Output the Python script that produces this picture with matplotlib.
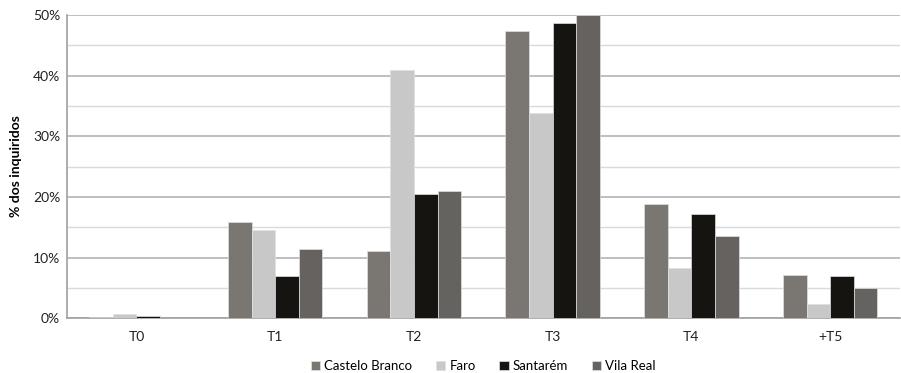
import numpy as np
import matplotlib.pyplot as plt
from matplotlib.ticker import MultipleLocator, PercentFormatter

plt.rcParams['font.family'] = ['Lato', 'DejaVu Sans']

categories = ['T0', 'T1', 'T2', 'T3', 'T4', '+T5']
castelo_branco = [0.2, 15.9, 11.1, 47.4, 18.8, 7.2]
faro = [0.7, 14.6, 40.9, 33.9, 8.3, 2.4]
santarem = [0.4, 7.0, 20.5, 48.6, 17.2, 7.0]
vila_real = [0.0, 11.4, 21.0, 50.0, 13.5, 4.9]

series = [('Castelo Branco', castelo_branco, '#7a7672'),
          ('Faro', faro, '#c8c8c8'),
          ('Santarém', santarem, '#161411'),
          ('Vila Real', vila_real, '#66625f')]

fig = plt.figure(figsize=(9.01, 3.73), dpi=100)
ax = fig.add_axes([0.0744, 0.147, 0.924, 0.813])

x = np.arange(len(categories))
w = 0.17
for i, (name, vals, col) in enumerate(series):
    ax.bar(x + (i - 1.5) * w, vals, w, color=col, label=name,
           edgecolor='#e0e0e0', linewidth=0.5, zorder=3)

ax.set_xlim(-0.5, len(categories) - 0.5)
ax.set_ylim(0, 50)
ax.yaxis.set_major_locator(MultipleLocator(10))
ax.yaxis.set_minor_locator(MultipleLocator(5))
ax.yaxis.set_major_formatter(PercentFormatter(decimals=0))
ax.grid(axis='y', which='major', color='#b4b4b4', linewidth=1.2, zorder=0)
ax.grid(axis='y', which='minor', color='#dadada', linewidth=1.0, zorder=0)
ax.set_xticks(x)
ax.set_xticklabels(categories)
ax.tick_params(axis='both', which='both', length=0, labelsize=10, colors='#222222', pad=9)
ax.tick_params(axis='y', pad=5)

for s in ['top', 'right']:
    ax.spines[s].set_visible(False)
for s in ['left', 'bottom']:
    ax.spines[s].set_color('#a0a0a0')
    ax.spines[s].set_linewidth(1.2)

ax.set_ylabel('% dos inquiridos', fontsize=10, fontweight='bold', labelpad=8)

ax.legend(loc='center', bbox_to_anchor=(0.5, -0.158), ncol=4, frameon=False,
          fontsize=9.5, handlelength=0.7, handleheight=0.7, handletextpad=0.3,
          columnspacing=1.8)

fig.savefig('out.png', dpi=100)
